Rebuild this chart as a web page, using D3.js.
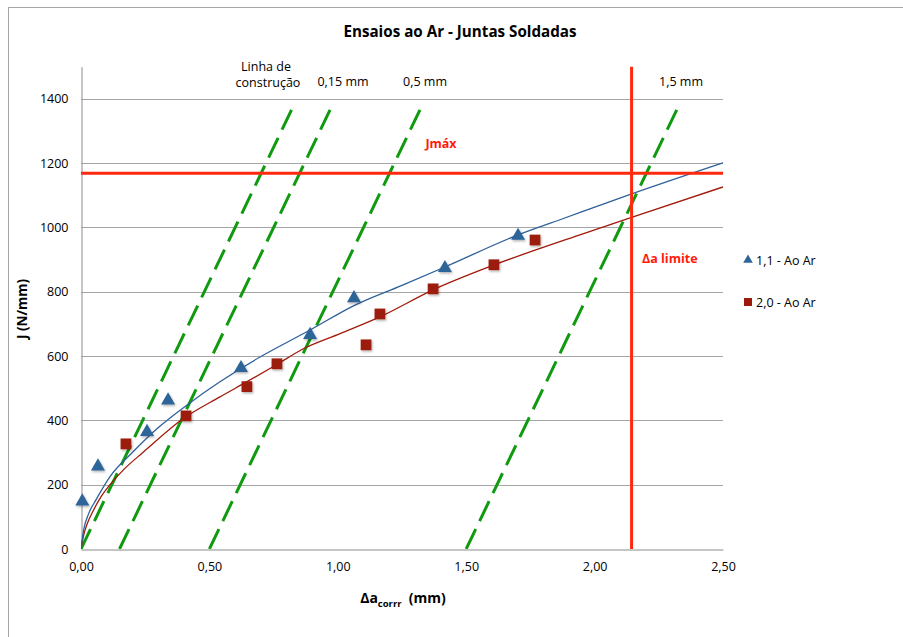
<!DOCTYPE html>
<html><head><meta charset="utf-8">
<script src="https://cdn.jsdelivr.net/npm/d3@7"></script>
<style>
body{margin:0;background:#fff;}
svg text{font-family:"Open Sans",sans-serif;}
</style></head>
<body><svg id="chart" width="903" height="637"></svg>
<script>
// ---- data ----
const series1Name = "1,1 - Ao Ar";
const series1X = [0.005, 0.066, 0.257, 0.339, 0.623, 0.892, 1.063, 1.417, 1.702];
const series1Y = [148, 257, 364, 462, 563, 666, 780, 874, 974];
const series2Name = "2,0 - Ao Ar";
const series2X = [0.175, 0.409, 0.646, 0.763, 1.110, 1.164, 1.371, 1.608, 1.768];
const series2Y = [327, 414, 505, 576, 635, 731, 809, 884, 961];
// fitted curves
const fit1X = [0, 0.01, 0.03, 0.06, 0.113, 0.2, 0.3, 0.413, 0.541, 0.697, 0.892, 1.063, 1.25, 1.417, 1.702, 1.865, 2.15, 2.5];
const fit1Y = [0, 58, 110, 155, 225, 300, 377, 448, 520, 597, 681, 757, 820, 877, 977, 1024, 1106, 1201];
const fit2X = [0, 0.01, 0.025, 0.047, 0.08, 0.113, 0.17, 0.241, 0.397, 0.541, 0.65, 0.763, 0.864, 1.009, 1.164, 1.371, 1.604, 1.943, 2.15, 2.5];
const fit2Y = [0, 42, 80, 118, 165, 200, 250, 300, 405, 473, 522, 574, 622, 670, 722, 806, 882, 977, 1033, 1126];
// construction lines
const constrOffsets = [0, 0.15, 0.5, 1.5];
const constrLabels = ["Linha de", "construção", "0,15 mm", "0,5 mm", "1,5 mm"];
const constrSlope = 1666;   // N/mm per mm
const constrTopJ = 1390;
const jMax = 1169;
const daLimit = 2.144;
const xTicks = [0, 0.5, 1.0, 1.5, 2.0, 2.5];
const yTicks = [0, 200, 400, 600, 800, 1000, 1200, 1400];

// ---- layout ----
const svg = d3.select("#chart");
const L = 81, R = 723, T = 66.7, B = 549;
const x = d3.scaleLinear().domain([0, 2.5]).range([L, R]);
const y = d3.scaleLinear().domain([0, 1500]).range([B, T]);
const FS = 12.5;

const defs = svg.append("defs");
const f = defs.append("filter").attr("id","sh").attr("x","-50%").attr("y","-50%").attr("width","200%").attr("height","200%");
f.append("feDropShadow").attr("dx",1).attr("dy",1.5).attr("stdDeviation",1).attr("flood-color","#000").attr("flood-opacity",0.3);
defs.append("clipPath").attr("id","pc").append("rect").attr("x",L).attr("y",T).attr("width",R-L).attr("height",B-T);

// outer border
svg.append("rect").attr("x",8.5).attr("y",7.5).attr("width",1000).attr("height",1000)
  .attr("fill","none").attr("stroke","#a6a6a6").attr("stroke-width",1);

// title
svg.append("text").attr("x",460).attr("y",37).attr("text-anchor","middle")
  .attr("font-size",15.2).attr("font-weight","bold").attr("fill","#000")
  .text("Ensaios ao Ar - Juntas Soldadas");

// gridlines
svg.append("g").selectAll("line").data(yTicks.filter(d=>d>0)).join("line")
  .attr("x1",L).attr("x2",R).attr("y1",d=>Math.round(y(d))+0.5).attr("y2",d=>Math.round(y(d))+0.5)
  .attr("stroke","#a6a6a6").attr("stroke-width",1);

// axes
const yAxis = d3.axisLeft(y).tickValues(yTicks).tickSize(0).tickPadding(13).tickFormat(d3.format("d"));
const gy = svg.append("g").attr("transform",`translate(${L+0.5},0)`).call(yAxis);
gy.select(".domain").attr("stroke","#8c8c8c");
gy.selectAll("text").attr("font-size",FS).attr("font-family","'Open Sans',sans-serif").attr("fill","#000");
const xAxis = d3.axisBottom(x).tickValues(xTicks).tickSize(0).tickPadding(13).tickFormat(d=>d3.format(".2f")(d).replace(".",","));
const gx = svg.append("g").attr("transform",`translate(0,${B+0.5})`).call(xAxis);
gx.select(".domain").attr("stroke","#8c8c8c");
gx.selectAll("text").attr("font-size",FS).attr("font-family","'Open Sans',sans-serif").attr("fill","#000");

// axis titles
svg.append("text").attr("transform","translate(27,309) rotate(-90)").attr("text-anchor","middle")
  .attr("font-size",13.5).attr("font-weight","bold").text("J (N/mm)");
const xt = svg.append("text").attr("x",403).attr("y",603).attr("text-anchor","middle")
  .attr("font-size",14).attr("font-weight","bold");
xt.append("tspan").text("Δa");
xt.append("tspan").attr("font-size",9.5).attr("dy",4).text("corrr");
xt.append("tspan").attr("dy",-4).text("\u00a0 (mm)");

const plot = svg.append("g").attr("clip-path","url(#pc)");

// construction lines
plot.selectAll("line.c").data(constrOffsets).join("line").attr("class","c")
  .attr("x1",o=>x(o)).attr("y1",y(0))
  .attr("x2",o=>x(o+constrTopJ/constrSlope)).attr("y2",y(constrTopJ))
  .attr("stroke","#109a10").attr("stroke-width",3).attr("stroke-dasharray","22,9");
// construction labels
svg.append("text").attr("x",266).attr("y",71).attr("text-anchor","middle").attr("font-size",FS).text(constrLabels[0]);
svg.append("text").attr("x",268).attr("y",87).attr("text-anchor","middle").attr("font-size",FS).text(constrLabels[1]);
svg.append("text").attr("x",343).attr("y",86).attr("text-anchor","middle").attr("font-size",FS).text(constrLabels[2]);
svg.append("text").attr("x",425).attr("y",86).attr("text-anchor","middle").attr("font-size",FS).text(constrLabels[3]);
svg.append("text").attr("x",681).attr("y",86).attr("text-anchor","middle").attr("font-size",FS).text(constrLabels[4]);

// limit lines
svg.append("line").attr("x1",L).attr("x2",R).attr("y1",y(jMax)).attr("y2",y(jMax))
  .attr("stroke","#ff2a0e").attr("stroke-width",3);
svg.append("line").attr("x1",x(daLimit)).attr("x2",x(daLimit)).attr("y1",T).attr("y2",B)
  .attr("stroke","#ff2a0e").attr("stroke-width",3);
svg.append("text").attr("x",441).attr("y",148).attr("text-anchor","middle").attr("font-size",FS)
  .attr("font-weight","bold").attr("fill","#ff1a0a").text("Jmáx");
svg.append("text").attr("x",642).attr("y",263).attr("font-size",FS)
  .attr("font-weight","bold").attr("fill","#ff1a0a").text("Δa limite");

// fitted curves
const line = d3.line().x(d=>x(d[0])).y(d=>y(d[1])).curve(d3.curveMonotoneX);
plot.append("path").datum(d3.zip(fit2X, fit2Y)).attr("d",line).attr("fill","none")
  .attr("stroke","#a11a0a").attr("stroke-width",1.3);
plot.append("path").datum(d3.zip(fit1X, fit1Y)).attr("d",line).attr("fill","none")
  .attr("stroke","#2e6199").attr("stroke-width",1.3);

// markers
const tri = d3.symbol().type(d3.symbolTriangle).size(85);
const sq = d3.symbol().type(d3.symbolSquare).size(115);
svg.append("g").selectAll("path").data(d3.zip(series1X, series1Y)).join("path")
  .attr("transform",d=>`translate(${x(d[0])},${y(d[1])})`).attr("d",tri)
  .attr("fill","#2f6598").attr("filter","url(#sh)");
svg.append("g").selectAll("path").data(d3.zip(series2X, series2Y)).join("path")
  .attr("transform",d=>`translate(${x(d[0])},${y(d[1])})`).attr("d",sq)
  .attr("fill","#9c1a0c").attr("filter","url(#sh)");

// legend
svg.append("path").attr("transform","translate(748,260)").attr("d",d3.symbol().type(d3.symbolTriangle).size(40)).attr("fill","#2f6598");
svg.append("text").attr("x",756).attr("y",265).attr("font-size",FS).text(series1Name);
svg.append("rect").attr("x",744).attr("y",298).attr("width",8).attr("height",8).attr("fill","#9c1a0c");
svg.append("text").attr("x",756).attr("y",307).attr("font-size",FS).text(series2Name);
</script></body></html>
